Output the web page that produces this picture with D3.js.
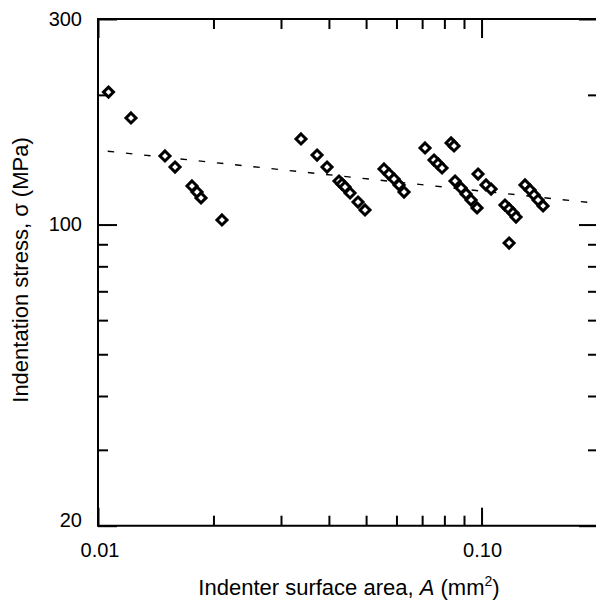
<!DOCTYPE html>
<html>
<head>
<meta charset="utf-8">
<script src="https://cdn.jsdelivr.net/npm/d3@7"></script>
<style>
	body { margin: 0; background: #fff; }
	svg { display: block; overflow: hidden; font-family: "Liberation Sans", Arial, sans-serif; }
	.tick text { font-size: 20px; fill: #000; }
</style>
</head>
<body>
<svg id="chart" width="596" height="603"></svg>
<script>
// indenter surface area A (mm^2) and indentation stress (MPa)
const area = [
	0.01065, 0.01219, 0.01495, 0.01588, 0.01758, 0.01812, 0.01856, 0.02105,
	0.03383, 0.03725, 0.03955, 0.0425, 0.04327, 0.04406, 0.04541, 0.04764, 0.04968,
	0.05568, 0.05738, 0.05913, 0.06094, 0.0628,
	0.07123, 0.08327, 0.08478, 0.07518, 0.077, 0.07889,
	0.08529, 0.08844, 0.09112, 0.09389, 0.09734, 0.09792, 0.1027, 0.1059,
	0.1151, 0.118, 0.1208, 0.123, 0.118,
	0.1298, 0.1338, 0.1371, 0.1404, 0.1447
];
const stress = [
	203, 176.8, 144.3, 136, 122.9, 119, 115.3, 102.5,
	158, 145, 136, 126.2, 124.2, 122.2, 118.4, 112.8, 108.1,
	134.6, 131, 127.6, 123.6, 119,
	150.6, 154.7, 152.2, 141.2, 138.3, 135.3,
	126.2, 121.6, 117.8, 114, 109.3, 131, 123.6, 120.9,
	111, 108.7, 106.4, 104.1, 90.6,
	123.6, 120.3, 117.1, 114, 110.5
];

// power-law fit (dashed)
const fitArea = [0.0106, 0.2];
const fitStress = [148, 112];

const xMajor = [0.01, 0.1];
const xMinor = [0.02, 0.03, 0.04, 0.05, 0.06, 0.07, 0.08, 0.09];
const yMajor = [20, 100, 300];
const yMinor = [30, 40, 50, 60, 70, 80, 90, 200];
const xLabels = { 0.01: "0.01", 0.1: "0.10" };

const svg = d3.select("#chart");
const mLeft = 98, mRight = 597, mTop = 19, mBottom = 525.7;

const x = d3.scaleLog().domain([0.01, 0.2]).range([mLeft, mRight]);
const y = d3.scaleLog().domain([20, 300]).range([mBottom, mTop]);

const tickStyle = g => {
	g.select(".domain").remove();
	g.selectAll(".tick line").attr("stroke", "#000").attr("stroke-width", 2);
};

// minor ticks, all four sides
svg.append("g").attr("transform", `translate(0,${mBottom})`)
	.call(d3.axisBottom(x).tickValues(xMinor).tickSize(-10).tickFormat(""))
	.call(tickStyle);
svg.append("g").attr("transform", `translate(0,${mTop})`)
	.call(d3.axisTop(x).tickValues(xMinor).tickSize(-10).tickFormat(""))
	.call(tickStyle);
svg.append("g").attr("transform", `translate(${mLeft},0)`)
	.call(d3.axisLeft(y).tickValues(yMinor).tickSize(-10).tickFormat(""))
	.call(tickStyle);
svg.append("g").attr("transform", `translate(${mRight},0)`)
	.call(d3.axisRight(y).tickValues(yMinor).tickSize(-9).tickFormat(""))
	.call(tickStyle);

// major ticks with labels
svg.append("g").attr("transform", `translate(0,${mBottom})`)
	.call(d3.axisBottom(x).tickValues(xMajor).tickSize(-18).tickPadding(0).tickFormat(d => xLabels[d]))
	.call(tickStyle)
	.call(g => g.selectAll(".tick text").attr("y", 31).attr("dy", 0)
		.attr("dx", d => d === 0.01 ? 1.5 : 0.5));
svg.append("g").attr("transform", `translate(0,${mTop})`)
	.call(d3.axisTop(x).tickValues(xMajor).tickSize(-19).tickFormat(""))
	.call(tickStyle);
svg.append("g").attr("transform", `translate(${mLeft},0)`)
	.call(d3.axisLeft(y).tickValues(yMajor).tickSize(-19).tickFormat(d3.format("d")))
	.call(tickStyle)
	.call(g => g.selectAll(".tick text").attr("x", -16).attr("dy", d => d === 20 ? "0.05em" : "0.32em"));
svg.append("g").attr("transform", `translate(${mRight},0)`)
	.call(d3.axisRight(y).tickValues(yMajor).tickSize(-18).tickFormat(""))
	.call(tickStyle);

// frame (right spine falls outside the picture)
svg.append("path")
	.attr("d", `M${x(0.2)},${y(300)}H${x(0.01)}V${y(20)}H${x(0.2)}`)
	.attr("fill", "none").attr("stroke", "#000").attr("stroke-width", 2);

// dashed fit line
const line = d3.line().x(d => x(d[0])).y(d => y(d[1]));
svg.append("path")
	.datum(fitArea.map((a, i) => [a, fitStress[i]]))
	.attr("fill", "none")
	.attr("stroke", "#000")
	.attr("stroke-width", 1.4)
	.attr("stroke-dasharray", "6.5,11.8")
	.attr("d", line);

// open diamonds
const diamond = "M0,-5L5,0L0,5L-5,0Z";
svg.append("g").selectAll("path")
	.data(area.map((a, i) => [a, stress[i]]))
	.join("path")
	.attr("transform", d => `translate(${x(d[0])},${y(d[1])})`)
	.attr("d", diamond)
	.attr("fill", "#fff")
	.attr("stroke", "#000")
	.attr("stroke-width", 3);

// axis titles
const xt = svg.append("text")
	.attr("x", 349).attr("y", 595)
	.attr("text-anchor", "middle")
	.attr("font-size", 22);
xt.append("tspan").text("Indenter surface area, ");
xt.append("tspan").attr("font-style", "italic").text("A");
xt.append("tspan").text(" (mm");
xt.append("tspan").attr("font-size", 14).attr("dy", -9).text("2");
xt.append("tspan").attr("dy", 9).text(")");

svg.append("text")
	.attr("transform", "translate(28,270) rotate(-90)")
	.attr("text-anchor", "middle")
	.attr("font-size", 22)
	.text("Indentation stress, σ (MPa)");
</script>
</body>
</html>
